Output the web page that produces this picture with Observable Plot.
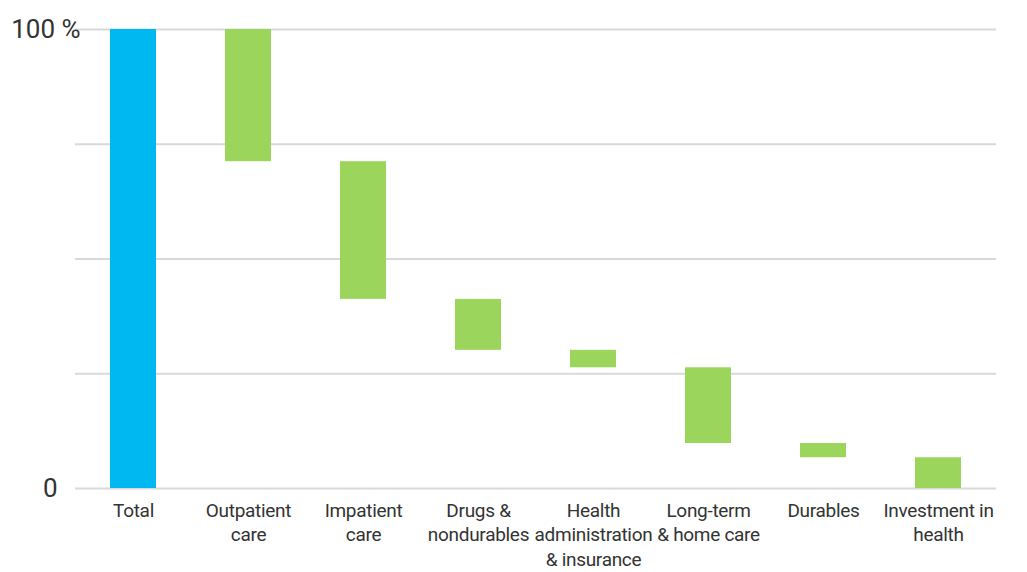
<!DOCTYPE html>
<html>
<head>
<meta charset="utf-8">
<script src="https://cdn.jsdelivr.net/npm/d3@7"></script>
<script src="https://cdn.jsdelivr.net/npm/@observablehq/plot@0.6"></script>
<style>
  html, body { margin: 0; padding: 0; background: #fff; }
  .xlabels text { letter-spacing: -0.3px; }
</style>
</head>
<body>
<div id="chart"></div>
<script>
// Waterfall: share of health spending (%)
const categories = ["Total", "Outpatient care", "Impatient care", "Drugs & nondurables",
  "Health administration & insurance", "Long-term & home care", "Durables", "Investment in health"];
const tickLabels = ["Total", "Outpatient\ncare", "Impatient\ncare", "Drugs &\nnondurables",
  "Health\nadministration\n& insurance", "Long-term\n& home care", "Durables", "Investment in\nhealth"];
const barTop = [100, 100, 71.2, 41.2, 30.1, 26.3, 9.8, 6.7];
const barBottom = [0, 71.2, 41.2, 30.1, 26.3, 9.8, 6.7, 0];
const kinds = ["total", "part", "part", "part", "part", "part", "part", "part"];
const gridValues = [0, 25, 50, 75, 100];

const rows = categories.map((c, i) => ({category: c, high: barTop[i], low: barBottom[i], kind: kinds[i]}));
const labelOf = new Map(categories.map((c, i) => [c, tickLabels[i]]));

const chart = Plot.plot({
  width: 1027,
  height: 572,
  marginLeft: 75,
  marginRight: 31,
  marginTop: 29,
  marginBottom: 84,
  style: {fontFamily: "Roboto, sans-serif", color: "#333", background: "#fff"},
  x: {domain: categories, paddingInner: 0.6, paddingOuter: 0.3, axis: null},
  y: {domain: [0, 100], axis: null},
  marks: [
    Plot.ruleY(gridValues, {stroke: "#d9d9d9", strokeWidth: 2}),
    Plot.barY(rows.filter(d => d.kind === "total"), {x: "category", y1: "low", y2: "high", fill: "#00b8f1"}),
    Plot.barY(rows.filter(d => d.kind !== "total"), {x: "category", y1: "low", y2: "high", fill: "#9cd55c"}),
    Plot.axisX({tickSize: 0, tickPadding: 11, fontSize: 19, lineHeight: 1.29, label: null,
      className: "xlabels", tickFormat: d => labelOf.get(d)}),
    Plot.axisY([100], {tickSize: 0, tickPadding: -5, fontSize: 26, label: null, tickFormat: () => "100 %"}),
    Plot.axisY([0], {tickSize: 0, tickPadding: 18, fontSize: 26, label: null, tickFormat: () => "0"})
  ]
});
document.getElementById("chart").appendChild(chart);
</script>
</body>
</html>
